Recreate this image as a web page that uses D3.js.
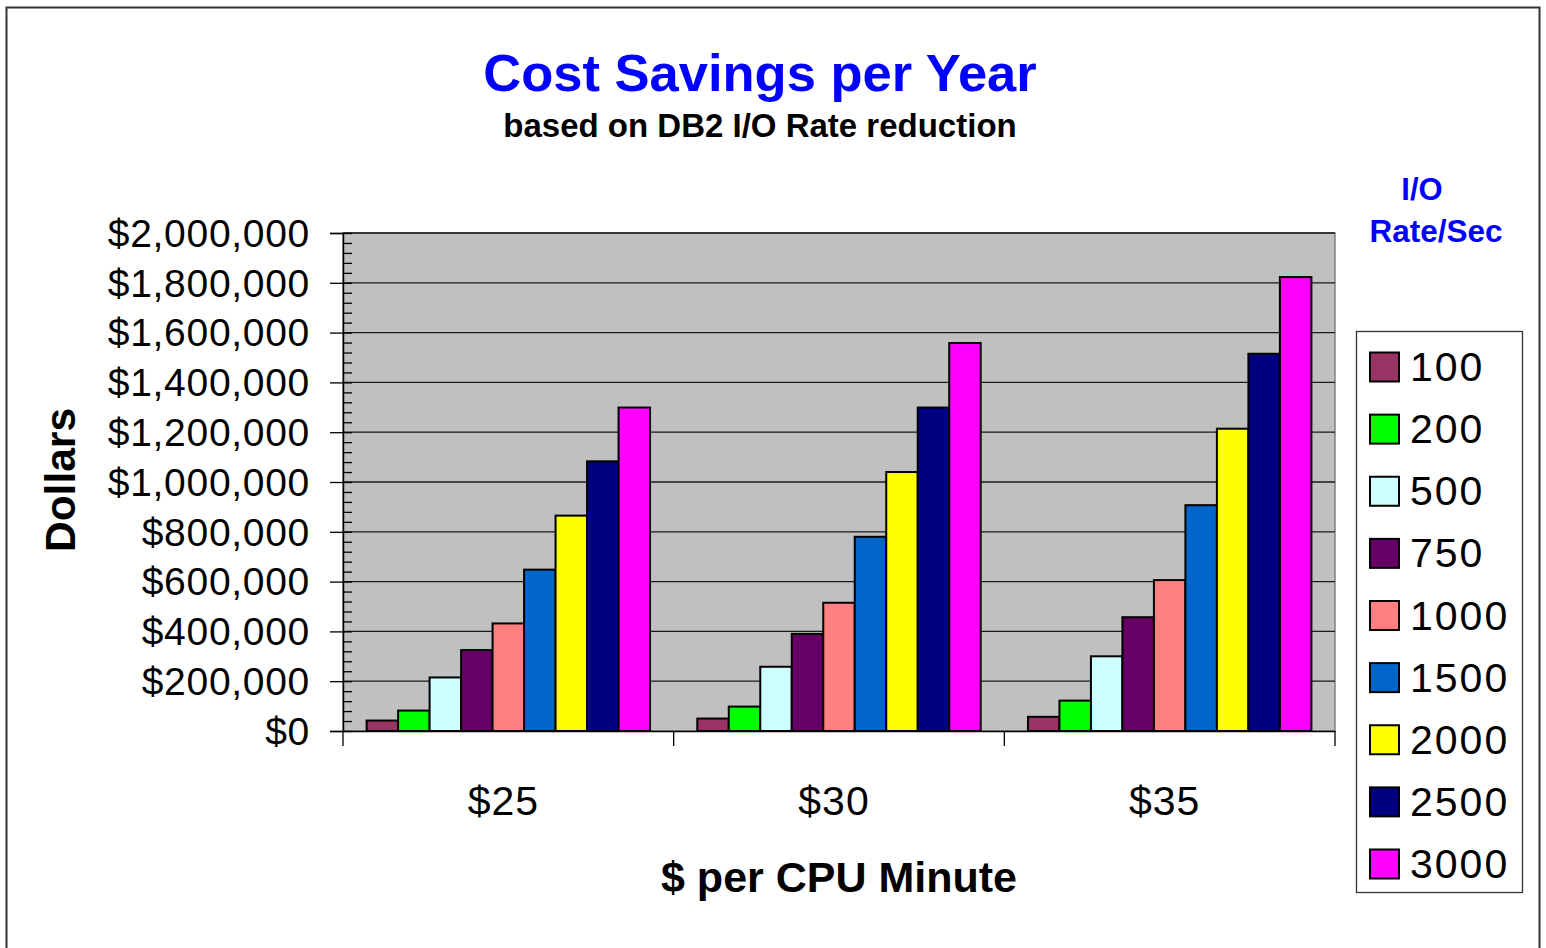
<!DOCTYPE html>
<html>
<head>
<meta charset="utf-8">
<script src="https://cdn.jsdelivr.net/npm/d3@7"></script>
<style>
  html, body { margin: 0; padding: 0; background: #fff; }
  svg { display: block; font-family: "Liberation Sans", Arial, sans-serif; }
</style>
</head>
<body>
<svg id="chart" width="1546" height="948"></svg>
<script>
// ---- data ----
const categories = ["$25", "$30", "$35"];
const seriesNames = ["100", "200", "500", "750", "1000", "1500", "2000", "2500", "3000"];
const s100  = [42000, 50000, 57000];
const s200  = [82000, 98000, 122000];
const s500  = [215000, 258000, 300000];
const s750  = [325000, 390000, 457000];
const s1000 = [432000, 515000, 606000];
const s1500 = [648000, 780000, 907000];
const s2000 = [865000, 1040000, 1214000];
const s2500 = [1083000, 1299000, 1515000];
const s3000 = [1299000, 1558000, 1823000];
const seriesValues = [s100, s200, s500, s750, s1000, s1500, s2000, s2500, s3000];
const seriesColors = ["#993366", "#00FF00", "#CCFFFF", "#660066", "#FF8080", "#0066CC", "#FFFF00", "#000080", "#FF00FF"];
const yTicks = [0, 200000, 400000, 600000, 800000, 1000000, 1200000, 1400000, 1600000, 1800000, 2000000];

const svg = d3.select("#chart");

// outer frame
svg.append("rect").attr("x", 6.5).attr("y", 7.5).attr("width", 1533).attr("height", 960)
  .attr("fill", "#fff").attr("stroke", "#333").attr("stroke-width", 2);

const plot = { left: 343, right: 1335, top: 233, bottom: 731 };

const y = d3.scaleLinear().domain([0, 2000000]).range([plot.bottom, plot.top]);
const x0 = d3.scaleBand().domain(categories).range([plot.left, plot.right]).padding(0);
const x1 = d3.scaleBand().domain(seriesNames).range([0, x0.bandwidth()]).paddingInner(0).paddingOuter(0.75);

// plot background
svg.append("rect").attr("x", plot.left).attr("y", plot.top)
  .attr("width", plot.right - plot.left).attr("height", plot.bottom - plot.top)
  .attr("fill", "#C0C0C0").attr("stroke", "#808080").attr("stroke-width", 1.5);

// gridlines
svg.append("g").selectAll("line").data(yTicks.filter(d => d > 0)).join("line")
  .attr("x1", plot.left).attr("x2", plot.right)
  .attr("y1", d => y(d)).attr("y2", d => y(d))
  .attr("stroke", "#1a1a1a").attr("stroke-width", 1.3);

// bars
const groups = svg.append("g").selectAll("g").data(categories).join("g")
  .attr("transform", c => `translate(${x0(c)},0)`);
groups.selectAll("rect").data((c, ci) => seriesNames.map((s, si) => ({ s, si, v: seriesValues[si][ci] })))
  .join("rect")
  .attr("x", d => x1(d.s)).attr("width", x1.bandwidth())
  .attr("y", d => y(d.v)).attr("height", d => y(0) - y(d.v))
  .attr("fill", d => seriesColors[d.si])
  .attr("stroke", "#000").attr("stroke-width", 2);

// y axis
const yAxis = d3.axisLeft(y).tickValues(yTicks).tickSize(13).tickPadding(20)
  .tickFormat(d => "$" + d3.format(",")(d));
const gy = svg.append("g").attr("transform", `translate(${plot.left},0)`).call(yAxis);
gy.select(".domain").attr("stroke", "#000").attr("stroke-width", 1.5);
gy.selectAll(".tick line").attr("stroke", "#000").attr("stroke-width", 1.3);
gy.selectAll(".tick text").attr("font-size", 39).attr("fill", "#000").attr("letter-spacing", 0.7)
  .attr("font-family", "Liberation Sans, Arial, sans-serif").attr("dy", "0.34em");

// minor ticks inside
const minor = d3.range(0, 2000001, 40000);
const yMinor = d3.axisRight(y).tickValues(minor).tickSize(9).tickFormat("");
const gym = svg.append("g").attr("transform", `translate(${plot.left},0)`).call(yMinor);
gym.select(".domain").remove();
gym.selectAll(".tick line").attr("stroke", "#000").attr("stroke-width", 1.3);

// x axis
const xAxis = d3.axisBottom(x0).tickSize(0).tickPadding(0);
const gx = svg.append("g").attr("transform", `translate(0,${plot.bottom})`).call(xAxis);
gx.select(".domain").attr("stroke", "#000").attr("stroke-width", 1.5);
gx.selectAll(".tick text").attr("font-size", 41).attr("fill", "#000").attr("letter-spacing", 1)
  .attr("font-family", "Liberation Sans, Arial, sans-serif").attr("x", -5).attr("y", 84).attr("dy", 0);
// category boundary ticks
const bounds = categories.map(c => x0(c)).concat([plot.right]);
svg.append("g").selectAll("line").data(bounds).join("line")
  .attr("x1", d => d).attr("x2", d => d).attr("y1", plot.bottom).attr("y2", plot.bottom + 15)
  .attr("stroke", "#000").attr("stroke-width", 1.3);

// titles
svg.append("text").attr("x", 760).attr("y", 91).attr("text-anchor", "middle")
  .attr("font-size", 52.5).attr("font-weight", "bold").attr("fill", "#0000FF")
  .text("Cost Savings per Year");
svg.append("text").attr("x", 760).attr("y", 137).attr("text-anchor", "middle")
  .attr("font-size", 33).attr("font-weight", "bold").attr("fill", "#000")
  .text("based on DB2 I/O Rate reduction");
svg.append("text").attr("x", 839).attr("y", 892).attr("text-anchor", "middle")
  .attr("font-size", 43).attr("font-weight", "bold").attr("fill", "#000")
  .text("$ per CPU Minute");
svg.append("text").attr("transform", "translate(75,480) rotate(-90)").attr("text-anchor", "middle")
  .attr("font-size", 42.5).attr("font-weight", "bold").attr("fill", "#000")
  .text("Dollars");

// legend title
svg.append("text").attr("x", 1422).attr("y", 200).attr("text-anchor", "middle")
  .attr("font-size", 31).attr("font-weight", "bold").attr("fill", "#0000FF").text("I/O");
svg.append("text").attr("x", 1436).attr("y", 242).attr("text-anchor", "middle")
  .attr("font-size", 31.5).attr("font-weight", "bold").attr("fill", "#0000FF").text("Rate/Sec");

// legend
svg.append("rect").attr("x", 1356.5).attr("y", 331.5).attr("width", 166).attr("height", 561)
  .attr("fill", "#fff").attr("stroke", "#333").attr("stroke-width", 1.3);
const ly = d3.scalePoint().domain(seriesNames).range([367, 864]);
const li = svg.append("g").selectAll("g").data(seriesNames).join("g")
  .attr("transform", d => `translate(0,${ly(d)})`);
li.append("rect").attr("x", 1370).attr("y", -14.5).attr("width", 29).attr("height", 29)
  .attr("fill", (d, i) => seriesColors[i]).attr("stroke", "#000").attr("stroke-width", 2);
li.append("text").attr("x", 1410).attr("y", 14).attr("font-size", 41).attr("letter-spacing", 2)
  .attr("fill", "#000").text(d => d);
</script>
</body>
</html>
